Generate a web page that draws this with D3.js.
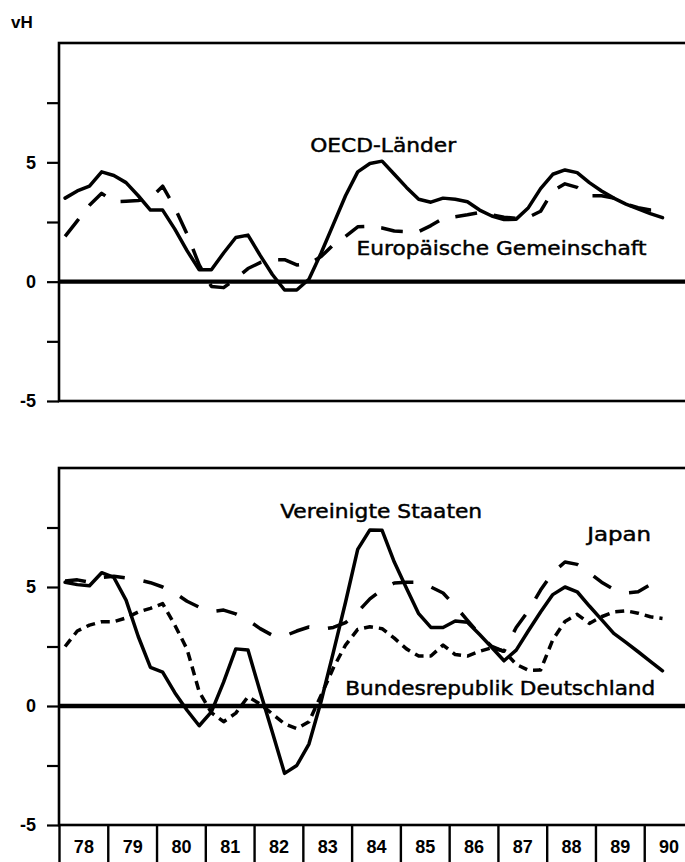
<!DOCTYPE html>
<html><head><meta charset="utf-8">
<script src="https://cdn.jsdelivr.net/npm/d3@7/dist/d3.min.js"></script>
<style>html,body{margin:0;padding:0;background:#fff}</style>
</head><body>
<script>
// ---- data (quarterly, 1978 Q1 – 1990 Q2), change in % (vH) ----
const years = [78, 79, 80, 81, 82, 83, 84, 85, 86, 87, 88, 89, 90];
const yTickValues = [-5, -2.5, 0, 2.5, 5, 7.5];
const yTickLabels = ["-5", "", "0", "", "5", ""];

const oecd = [3.5, 3.8, 4.0, 4.6,  4.45, 4.15, 3.6, 3.0,  3.0, 2.2, 1.3, 0.5,  0.5, 1.2, 1.85, 1.95,
  1.1, 0.3, -0.35, -0.35,  0.1, 1.2, 2.4, 3.6,  4.6, 4.95, 5.05, 4.5,  3.95, 3.45, 3.33, 3.5,
  3.45, 3.35, 3.0, 2.75,  2.6, 2.62, 3.1, 3.9,  4.5, 4.68, 4.57, 4.15,  3.8, 3.5, 3.25, 3.05,  2.85, 2.68];
const eg = [1.9, 2.55, 3.2, 3.7,  3.35, 3.37, 3.4, 3.5,  4.0, 3.1, 2.0, 0.7,  -0.2, -0.25, 0.12, 0.55,
  0.8, 0.92, 0.92, 0.7,  0.75, 1.05, 1.55, 1.9,  2.3, 2.32, 2.25, 2.12,  2.1, 2.1, 2.35, 2.65,
  2.72, 2.8, 2.9, 2.8,  2.7, 2.65, 2.7, 2.95,  3.8, 4.1, 3.95, 3.6,  3.6, 3.5, 3.25, 3.1,  3.0, 3.0];
const usa = [5.2, 5.1, 5.05, 5.6,  5.4, 4.45, 2.92, 1.62,  1.42, 0.56, -0.18, -0.83,  -0.25, 1.0, 2.4, 2.35,
  0.6, -1.1, -2.83, -2.5,  -1.6, 0.2, 2.25, 4.36,  6.58, 7.4, 7.38, 6.05,  4.95, 3.88, 3.3, 3.3,
  3.57, 3.52, 3.0, 2.46,  1.9, 2.35, 3.16, 3.95,  4.68, 5.0, 4.8, 4.2,  3.63, 3.05, 2.67, 2.28,  1.88, 1.48];
const japan = [5.25, 5.3, 5.2, 5.4,  5.45, 5.38, 5.3, 5.18,  5.0, 4.75, 4.4, 4.15,  3.97, 4.03, 3.87, 3.61,
  3.25, 2.97, 2.94, 3.15,  3.32, 3.22, 3.3, 3.5,  3.95, 4.5, 4.9, 5.17,  5.2, 5.2, 5.0, 4.75,
  4.2, 3.6, 3.0, 2.5,  2.3, 3.3, 4.0, 4.87,  5.6, 6.05, 5.95, 5.6,  5.2, 4.9, 4.75, 4.8,  5.1, 5.35];
const brd = [2.5, 3.15, 3.4, 3.54,  3.54, 3.7, 3.95, 4.1,  4.3, 3.4, 2.39, 0.6,  -0.28, -0.66, -0.3, 0.39,
  0.08, -0.33, -0.75, -0.95,  -0.66, 0.45, 1.6, 2.56,  3.22, 3.33, 3.25, 2.85,  2.4, 2.1, 2.1, 2.56,
  2.16, 2.1, 2.3, 2.45,  2.3, 1.75, 1.5, 1.51,  2.78, 3.55, 3.85, 3.47,  3.75, 3.95, 4.0, 3.9,  3.75, 3.68];

const unitLabel = "vH";
const topLabels = [
  {text: "OECD-Länder", t: 83.15, v: 5.45, w: 146},
  {text: "Europäische Gemeinschaft", t: 84.1, v: 1.1, w: 290}
];
const bottomLabels = [
  {text: "Vereinigte Staaten", t: 82.535, v: 7.9, w: 202},
  {text: "Japan", t: 88.83, v: 6.95, w: 64},
  {text: "Bundesrepublik Deutschland", t: 83.87, v: 0.46, w: 310}
];

// ---- periods (quarter midpoints) ----
const periods = [];
years.forEach(y => { for (let q = 1; q <= 4; q++) periods.push(y + (q - 0.5) / 4); });
const pts = periods.slice(0, oecd.length);

const W = 685, H = 862;
const svg = d3.select("body").append("svg").attr("width", W).attr("height", H)
  .style("display", "block").style("background", "#fff");

const x = d3.scaleLinear().domain([78, 91]).range([59, 693]);
const yTop = d3.scaleLinear().domain([-5, 10]).range([401, 43]);
const yBot = d3.scaleLinear().domain([-5, 10]).range([825, 468]);

const boldFont = "'Liberation Sans', Arial, sans-serif";
const labelFont = "'DejaVu Sans', sans-serif";

function panel(y, series, labels) {
  const g = svg.append("g");
  g.append("rect")
    .attr("x", x(78)).attr("y", y(10))
    .attr("width", x(91) - x(78)).attr("height", y(-5) - y(10))
    .attr("fill", "none").attr("stroke", "#000").attr("stroke-width", 2.6);
  const ax = g.append("g").attr("transform", `translate(${x(78)},0)`)
    .call(d3.axisLeft(y).tickValues(yTickValues).tickSize(12).tickPadding(11)
      .tickFormat((d, i) => yTickLabels[i]));
  ax.select(".domain").remove();
  ax.selectAll(".tick line").attr("stroke", "#000").attr("stroke-width", 2.2);
  ax.selectAll(".tick text").attr("font-family", boldFont).attr("font-weight", "bold")
    .attr("font-size", 18).attr("fill", "#000");
  g.append("line").attr("x1", x(78)).attr("x2", x(91)).attr("y1", y(0)).attr("y2", y(0))
    .attr("stroke", "#000").attr("stroke-width", 4.4);
  series.forEach(s => {
    const line = d3.line().x((d, i) => x(pts[i])).y(d => y(d));
    g.append("path").datum(s.values).attr("d", line)
      .attr("fill", "none").attr("stroke", "#000").attr("stroke-width", 3.5)
      .attr("stroke-linejoin", "round").attr("stroke-linecap", s.dash ? "butt" : "round")
      .attr("stroke-dasharray", s.dash || null);
  });
  labels.forEach(l => {
    g.append("text").attr("x", x(l.t)).attr("y", y(l.v))
      .attr("font-family", labelFont).attr("font-size", 19).attr("fill", "#000")
      .attr("stroke", "#000").attr("stroke-width", 0.45)
      .attr("textLength", l.w).attr("lengthAdjust", "spacingAndGlyphs")
      .text(l.text);
  });
}

panel(yTop, [
  {values: eg, dash: "22,17"},
  {values: oecd}
], topLabels);

panel(yBot, [
  {values: japan, dash: "21,19"},
  {values: brd, dash: "9,6"},
  {values: usa}
], bottomLabels);

const sep = svg.append("g").attr("transform", `translate(0,${yBot(-5)})`)
  .call(d3.axisBottom(x).tickValues(d3.range(78, 92)).tickSize(45).tickFormat(""));
sep.select(".domain").remove();
sep.selectAll(".tick line").attr("stroke", "#000").attr("stroke-width", 2.4);

const yl = svg.append("g").attr("transform", `translate(0,${yBot(-5)})`)
  .call(d3.axisBottom(x).tickValues(years.map(v => v + 0.5)).tickSize(0).tickPadding(15)
    .tickFormat(d => String(Math.floor(d))));
yl.select(".domain").remove();
yl.selectAll(".tick text").attr("font-family", boldFont).attr("font-weight", "bold")
  .attr("font-size", 18).attr("fill", "#000");

svg.append("text").attr("x", 11).attr("y", 28).text(unitLabel)
  .attr("font-family", boldFont).attr("font-weight", "bold").attr("font-size", 17).attr("fill", "#000");
</script>
</body></html>
